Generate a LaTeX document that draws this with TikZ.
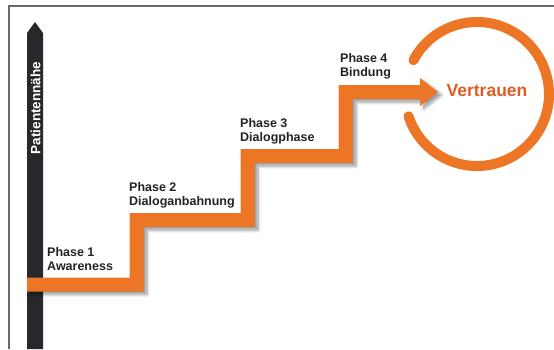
\documentclass[tikz,border=0pt]{standalone}
\usepackage{fontspec}
\setmainfont{Liberation Sans}
\usepackage{tikz}
\usetikzlibrary{shadows.blur}

\definecolor{stairorange}{RGB}{236,118,38}
\definecolor{trustorange}{RGB}{224,92,36}
\definecolor{axisblack}{RGB}{40,40,44}
\definecolor{framegray}{RGB}{110,100,115}
\definecolor{labelgray}{RGB}{34,34,34}

\tikzset{
	phaselabel/.style={anchor=north west, inner sep=0pt, align=left, text=labelgray,
		font=\bfseries\fontsize{12.5}{14.5}\selectfont},
	stairshape/.style={fill=stairorange, draw=none,
		blur shadow={shadow xshift=3.5pt, shadow yshift=-3pt, shadow blur steps=8, shadow blur radius=3pt}},
	ring/.style={draw=stairorange, line width=10pt, line cap=round}
}

\begin{document}
\begin{tikzpicture}[x=1pt, y=-1pt]
	\useasboundingbox (0,0) rectangle (554,349);
	
	% frame
	\draw[framegray, line width=1.5pt] (9,349) -- (9,6) -- (554,6);
	
	% axis
	\fill[axisblack] (27,349) -- (27,33) -- (35,22) -- (43,33) -- (43,349) -- cycle;
	\node[rotate=90, text=white, font=\bfseries\fontsize{13.5}{16}\selectfont] (axislabel) at (35.5,108) {Patientennähe};
	
	% stairs
	\path[stairshape] (27,277.5) -- (129.5,277.5) -- (129.5,213) -- (240.5,213) -- (240.5,149)
		-- (338.5,149) -- (338.5,85) -- (420,85) -- (420,78) -- (438,92) -- (420,106)
		-- (420,99) -- (352.5,99) -- (352.5,163) -- (254.5,163) -- (254.5,227)
		-- (143.5,227) -- (143.5,291.5) -- (27,291.5) -- cycle;
	
	\node[phaselabel] (phase1) at (47,247) {Phase 1\\Awareness};
	\node[phaselabel] (phase2) at (129,182) {Phase 2\\Dialoganbahnung};
	\node[phaselabel] (phase3) at (240,118) {Phase 3\\Dialogphase};
	\node[phaselabel] (phase4) at (340,53) {Phase 4\\Bindung};
	
	% goal
	\coordinate (ringcenter) at (477,94);
	\draw[ring] (ringcenter) ++(152:72pt) arc[start angle=152, end angle=-162, radius=72pt];
	\node[text=trustorange, font=\bfseries\fontsize{17.5}{20}\selectfont] (trust) at (487,91) {Vertrauen};
\end{tikzpicture}
\end{document}
